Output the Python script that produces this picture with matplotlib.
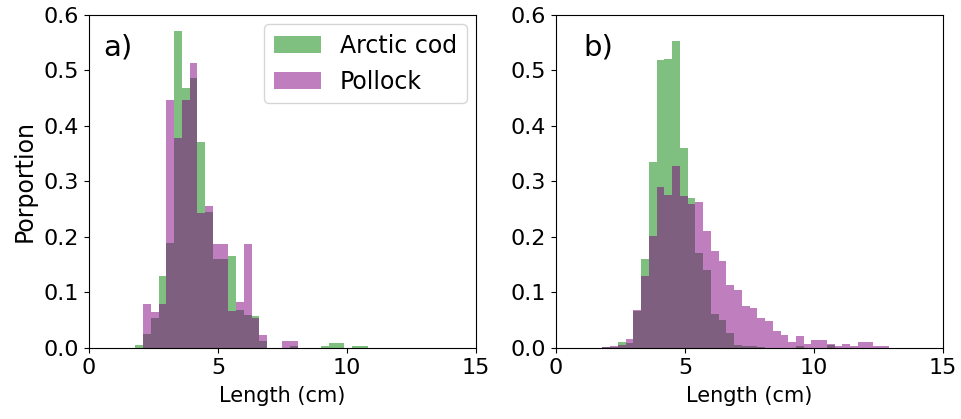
# Length distributions of Arctic cod and pollock in two samples,
# drawn as overlapping semi-transparent histograms (proportion per 0.3 cm bin).

import numpy as np
import matplotlib
matplotlib.use("Agg")
import matplotlib.pyplot as plt

# --- Data ---
# Every list holds one value per 0.3 cm bin, the first bin starts at 1.8 cm
first_bin = 1.8
bin_width = 0.3

cod_a = [0.005, 0.026, 0.054, 0.130, 0.190, 0.571, 0.469, 0.486, 0.372, 0.245,
         0.161, 0.161, 0.165, 0.068, 0.060, 0.058, 0.012, 0.0, 0.0, 0.0,
         0.004, 0.0, 0.0, 0.0, 0.004, 0.009, 0.009, 0.0, 0.004, 0.004]
pollock_a = [0.0, 0.079, 0.065, 0.079, 0.447, 0.378, 0.447, 0.513, 0.243, 0.255,
             0.188, 0.188, 0.066, 0.082, 0.187, 0.054, 0.024, 0.0, 0.0, 0.012,
             0.012]

cod_b = [0.001, 0.002, 0.011, 0.009, 0.067, 0.160, 0.336, 0.519, 0.521, 0.553,
         0.360, 0.270, 0.171, 0.141, 0.062, 0.051, 0.027, 0.006, 0.003, 0.003,
         0.001, 0.0, 0.0, 0.0, 0.0, 0.004, 0.0, 0.0, 0.0, 0.005]
pollock_b = [0.001, 0.003, 0.005, 0.017, 0.068, 0.130, 0.201, 0.290, 0.275, 0.328,
             0.273, 0.260, 0.263, 0.210, 0.174, 0.156, 0.114, 0.105, 0.075, 0.072,
             0.054, 0.049, 0.030, 0.023, 0.010, 0.021, 0.008, 0.014, 0.014, 0.007,
             0.004, 0.008, 0.004, 0.011, 0.011, 0.003, 0.004]

species = ["Arctic cod", "Pollock"]
colors = ["green", "purple"]
panel_labels = ["a)", "b)"]
x_ticks = [0, 5, 10, 15]
y_ticks = [0.0, 0.1, 0.2, 0.3, 0.4, 0.5, 0.6]


def draw_hist(ax, heights, color, label):
    """Draw one histogram from precomputed bin proportions."""
    edges = first_bin + bin_width * np.arange(len(heights) + 1)
    ax.hist(edges[:-1], bins=edges, weights=heights, color=color,
            alpha=0.5, label=label)


fig, axes = plt.subplots(1, 2, figsize=(9.61, 4.19), dpi=100)
fig.subplots_adjust(left=0.0926, right=0.9813, bottom=0.1695, top=0.9642,
                    wspace=0.207)

panels = [(cod_a, pollock_a), (cod_b, pollock_b)]
tag_x = [0.036, 0.07]
for ax, (cod, pollock), tag, tx in zip(axes, panels, panel_labels, tag_x):
    draw_hist(ax, cod, colors[0], species[0])
    draw_hist(ax, pollock, colors[1], species[1])
    ax.set_xlim(0, 15)
    ax.set_ylim(0, 0.6)
    ax.set_xticks(x_ticks)
    ax.set_yticks(y_ticks)
    ax.tick_params(labelsize=16)
    ax.set_xlabel("Length (cm)", fontsize=15, labelpad=6)
    ax.text(tx, 0.945, tag, transform=ax.transAxes, fontsize=21,
            va="top", ha="left")

axes[0].set_ylabel("Porportion", fontsize=17, labelpad=5)
axes[0].legend(loc="upper right", fontsize=17, handlelength=2.0,
               borderaxespad=0.4)

fig.savefig("out.png", dpi=100)
